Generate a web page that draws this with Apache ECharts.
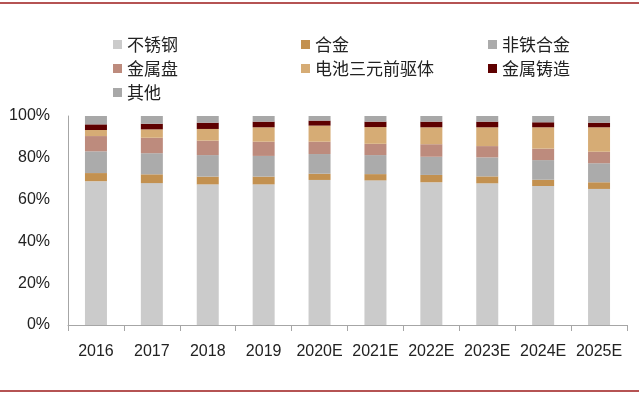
<!DOCTYPE html>
<html>
<head>
    <meta charset="UTF-8">
    <title>下游需求结构</title>
    <style>
        html, body { margin: 0; padding: 0; background: #fff; }
        #chart { width: 639px; height: 398px; }
    </style>
    <script src="https://cdn.jsdelivr.net/npm/echarts@6/dist/echarts.min.js"></script>
</head>
<body>
<div id="chart"></div>
<script>
    var years = ['2016', '2017', '2018', '2019', '2020E', '2021E', '2022E', '2023E', '2024E', '2025E'];
    var yTicks = ['0%', '20%', '40%', '60%', '80%', '100%'];

    // 各下游占比 (%)，自下而上堆叠
    var stainless = [68.8, 67.9, 67.3, 67.3, 69.4, 69.2, 68.3, 67.8, 66.5, 65.1];
    var alloy     = [3.9, 4.2, 3.7, 3.7, 3.0, 3.0, 3.5, 3.3, 3.0, 3.2];
    var nonFerrous= [10.4, 10.1, 10.3, 9.9, 9.4, 9.1, 8.7, 9.1, 9.4, 9.1];
    var disk      = [7.3, 7.4, 6.9, 6.8, 5.9, 5.4, 6.0, 5.4, 5.5, 5.5];
    var battery   = [2.9, 4.0, 5.6, 6.9, 7.7, 8.0, 8.1, 9.0, 10.2, 11.7];
    var casting   = [2.7, 2.7, 3.0, 2.7, 2.4, 2.6, 2.7, 2.7, 2.4, 2.2];
    var other     = [4.0, 3.7, 3.2, 2.7, 2.2, 2.7, 2.7, 2.7, 3.0, 3.2];

    var names = ['不锈钢', '合金', '非铁合金', '金属盘', '电池三元前驱体', '金属铸造', '其他'];
    var colors = ['#cbcbcb', '#c39150', '#ababab', '#bd8b7d', '#d6ac75', '#5e0000', '#a8a8a8'];
    var values = [stainless, alloy, nonFerrous, disk, battery, casting, other];

    var chart = echarts.init(document.getElementById('chart'));

    var series = [];
    for (var i = 0; i < names.length; i++) {
        series.push({
            name: names[i],
            type: 'bar',
            stack: 'total',
            barWidth: 22,
            itemStyle: { color: colors[i] },
            data: values[i]
        });
    }

    // 图例按三列排列，每项单独定位
    var legendLeft = [108, 296, 483];
    var legendTop = [31, 55, 79];
    var legends = [];
    for (var j = 0; j < names.length; j++) {
        legends.push({
            data: [names[j]],
            left: legendLeft[j % 3],
            top: legendTop[Math.floor(j / 3)],
            icon: 'rect',
            itemWidth: 9,
            itemHeight: 9,
            itemGap: 4,
            textStyle: {
                fontSize: 17,
                color: '#222',
                fontFamily: 'Noto Sans CJK SC'
            }
        });
    }

    var option = {
        backgroundColor: '#fff',
        animation: false,
        color: colors,
        legend: legends,
        grid: { left: 68, right: 12, top: 116, bottom: 73 },
        xAxis: {
            type: 'category',
            data: years,
            axisLine: { lineStyle: { color: '#a6a6a6', width: 1 } },
            axisTick: { show: true, length: 6, lineStyle: { color: '#a6a6a6' } },
            axisLabel: { interval: 0, color: '#222', fontSize: 16, margin: 19, fontFamily: 'Liberation Sans' }
        },
        yAxis: {
            type: 'value',
            min: 0,
            max: 100,
            interval: 20,
            axisLine: { show: true, lineStyle: { color: '#a6a6a6', width: 1 } },
            axisTick: { show: false },
            splitLine: { show: false },
            axisLabel: {
                color: '#222',
                fontSize: 16,
                margin: 18,
                fontFamily: 'Liberation Sans',
                formatter: function (v) { return yTicks[Math.round(v / 20)]; }
            }
        },
        graphic: [
            { type: 'line', shape: { x1: 0, y1: 3, x2: 639, y2: 3 }, style: { stroke: '#9c1a1a', lineWidth: 1.5 } },
            { type: 'line', shape: { x1: 0, y1: 391, x2: 639, y2: 391 }, style: { stroke: '#9c1a1a', lineWidth: 1.5 } }
        ],
        series: series
    };

    chart.setOption(option);
</script>
</body>
</html>
